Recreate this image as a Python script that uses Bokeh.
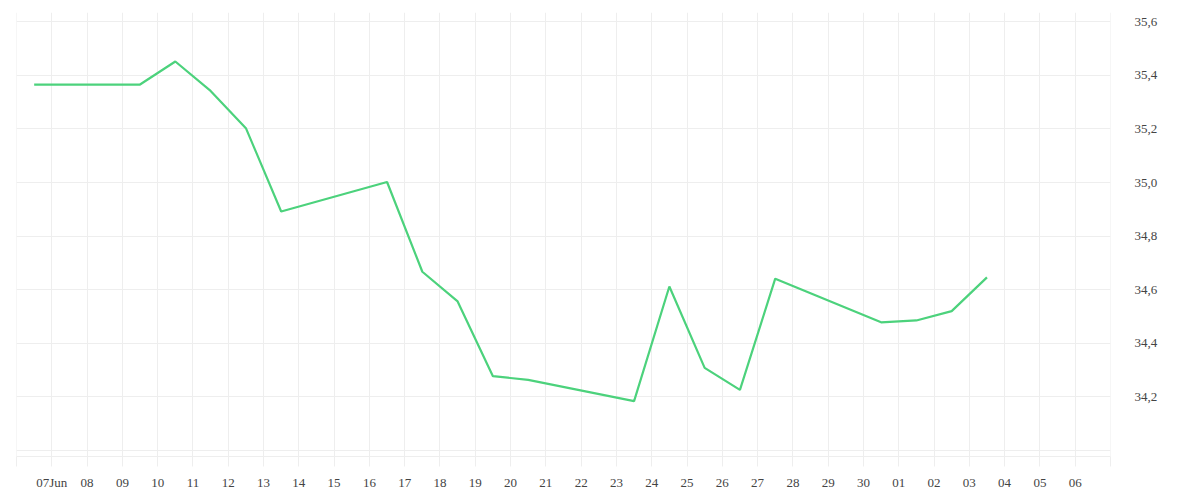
import pandas as pd
from bokeh.plotting import figure
from bokeh.models import FixedTicker, LinearAxis, Range1d, CustomJSTickFormatter
from bokeh.embed import file_html
from bokeh.resources import INLINE

# ---- data ----
dates = ["2025-06-06", "2025-06-09", "2025-06-10", "2025-06-11", "2025-06-12",
         "2025-06-13", "2025-06-16", "2025-06-17", "2025-06-18", "2025-06-19",
         "2025-06-20", "2025-06-23", "2025-06-24", "2025-06-25", "2025-06-26",
         "2025-06-27", "2025-06-30", "2025-07-01", "2025-07-02", "2025-07-03"]
values = [35.366, 35.366, 35.452, 35.342, 35.203,
          34.892, 35.002, 34.667, 34.556, 34.277,
          34.263, 34.184, 34.612, 34.308, 34.226,
          34.641, 34.478, 34.485, 34.520, 34.646]

tick_days = pd.date_range("2025-06-06", "2025-07-07", freq="D")
tick_labels = ["", "07Jun", "08", "09", "10", "11", "12", "13", "14", "15", "16",
               "17", "18", "19", "20", "21", "22", "23", "24", "25", "26", "27",
               "28", "29", "30", "01", "02", "03", "04", "05", "06", ""]
y_grid_ticks = [34.0, 34.2, 34.4, 34.6, 34.8, 35.0, 35.2, 35.4, 35.6]
y_label_ticks = [34.2, 34.4, 34.6, 34.8, 35.0, 35.2, 35.4, 35.6]

# ---- build ----
x = pd.to_datetime(dates) + pd.Timedelta(hours=12)
tick_ms = [float(t.value // 10**6) for t in tick_days]

FONT = "Liberation Serif"
GRID = "#eeeeee"
TEXT = "#444444"

p = figure(width=1184, height=492, x_axis_type="datetime",
           output_backend="svg", toolbar_location=None,
           y_axis_location=None,
           x_range=Range1d(tick_ms[0] - 60000, tick_ms[-1] + 60000),
           y_range=Range1d(33.977, 35.635),
           min_border_left=16, min_border_top=12,
           min_border_right=74, min_border_bottom=34)
p.outline_line_color = None
p.background_fill_color = "white"
p.border_fill_color = "white"

p.line(x, values, line_color="#4cd27c", line_width=2.2)

# x axis
xa = p.xaxis[0]
xa.ticker = FixedTicker(ticks=tick_ms)
xa.major_label_overrides = {t: l for t, l in zip(tick_ms, tick_labels)}
xa.axis_line_color = GRID
xa.major_tick_line_color = GRID
xa.major_tick_out = 10
xa.major_tick_in = 0
xa.minor_tick_line_color = None
xa.major_label_standoff = 8
xa.major_label_text_font = FONT
xa.major_label_text_font_size = "13px"
xa.major_label_text_color = TEXT

# right y axis
ya = LinearAxis(ticker=FixedTicker(ticks=y_label_ticks),
                formatter=CustomJSTickFormatter(code="return tick.toFixed(1).replace('.', ',');"))
ya.axis_line_color = None
ya.major_tick_line_color = None
ya.minor_tick_line_color = None
ya.major_label_standoff = 18
ya.major_label_text_font = FONT
ya.major_label_text_font_size = "13px"
ya.major_label_text_color = TEXT
p.add_layout(ya, "right")

p.xgrid.ticker = FixedTicker(ticks=tick_ms)
p.xgrid.grid_line_color = GRID
p.ygrid.ticker = FixedTicker(ticks=y_grid_ticks)
p.ygrid.grid_line_color = GRID

with open("out.html", "w") as f:
    f.write(file_html(p, INLINE))
